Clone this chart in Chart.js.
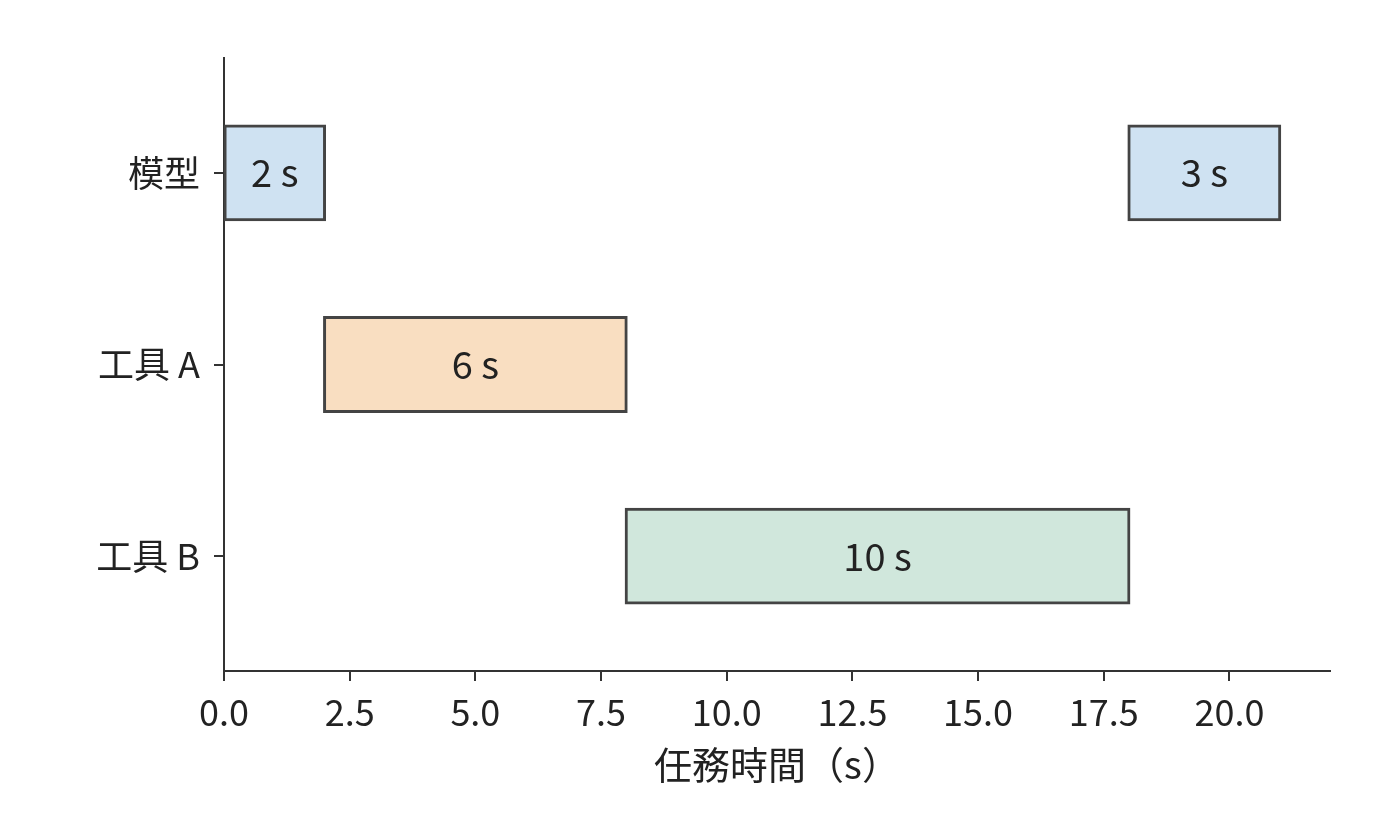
<!DOCTYPE html>
<html>
<head>
<meta charset="utf-8">
<script src="https://cdn.jsdelivr.net/npm/chart.js@4/dist/chart.umd.min.js"></script>
<style>
  body { margin: 0; background: #fff; }
  canvas { display: block; }
</style>
</head>
<body>
<canvas id="myChart" width="1400" height="840"></canvas>
<script>
// rows on the y axis
var categories = ['模型', '工具 A', '工具 B'];
var rowColors = ['#cfe2f2', '#f9dec1', '#d0e7dc'];

// each task: which row, when it starts, how long it runs
var taskRows = [0, 1, 2, 0];
var taskStarts = [0, 2, 8, 18];
var taskDurations = [2, 6, 10, 3];

var xTicks = [0, 2.5, 5, 7.5, 10, 12.5, 15, 17.5, 20];

var FONT = '"Noto Sans CJK TC", "Noto Sans", sans-serif';
Chart.defaults.font.family = FONT;
Chart.defaults.color = '#222';

var bars = taskRows.map(function (r, i) {
  return { x: [taskStarts[i], taskStarts[i] + taskDurations[i]], y: r };
});

// writes "n s" in the middle of each bar
var barLabels = {
  id: 'barLabels',
  afterDatasetsDraw: function (chart) {
    var ctx = chart.ctx;
    var meta = chart.getDatasetMeta(0);
    ctx.save();
    ctx.font = '38px ' + FONT;
    ctx.fillStyle = '#222';
    ctx.textAlign = 'center';
    ctx.textBaseline = 'middle';
    meta.data.forEach(function (bar, i) {
      var p = bar.getCenterPoint();
      ctx.fillText(taskDurations[i] + ' s', p.x, p.y);
    });
    ctx.restore();
  }
};

var ctx = document.getElementById('myChart').getContext('2d');
var chart = new Chart(ctx, {
  type: 'bar',
  data: {
    datasets: [{
      data: bars,
      backgroundColor: taskRows.map(function (r) { return rowColors[r]; }),
      borderColor: '#444',
      borderWidth: 3,
      borderSkipped: false,
      inflateAmount: 1.5,
      barPercentage: 0.49,
      categoryPercentage: 1
    }]
  },
  options: {
    responsive: false,
    animation: false,
    indexAxis: 'y',
    layout: { padding: { top: 58, right: 70, left: 0, bottom: 0 } },
    plugins: {
      legend: { display: false },
      tooltip: { enabled: false }
    },
    scales: {
      x: {
        type: 'linear',
        min: 0,
        max: 22,
        afterBuildTicks: function (scale) {
          scale.ticks = xTicks.map(function (v) { return { value: v }; });
        },
        afterFit: function (scale) { scale.height = 169; },
        ticks: {
          font: { size: 36 },
          padding: 10,
          maxRotation: 0,
          autoSkip: false,
          callback: function (v) { return Number(v).toFixed(1); }
        },
        grid: { drawOnChartArea: false, tickLength: 10, color: '#333', lineWidth: 2 },
        border: { display: true, color: '#333', width: 2 },
        title: {
          display: true,
          text: '任務時間（s）',
          font: { size: 38 },
          padding: { top: 0, bottom: 53 }
        }
      },
      y: {
        type: 'linear',
        reverse: true,
        offset: false,
        min: -0.6,
        max: 2.6,
        afterBuildTicks: function (scale) {
          scale.ticks = categories.map(function (c, i) { return { value: i }; });
        },
        afterFit: function (scale) { scale.width = 224; },
        ticks: {
          font: { size: 36 },
          padding: 14,
          autoSkip: false,
          callback: function (v) { return categories[v]; }
        },
        grid: { offset: false, drawOnChartArea: false, tickLength: 10, color: '#333', lineWidth: 2 },
        border: { display: true, color: '#333', width: 2 }
      }
    }
  },
  plugins: [barLabels]
});
</script>
</body>
</html>
